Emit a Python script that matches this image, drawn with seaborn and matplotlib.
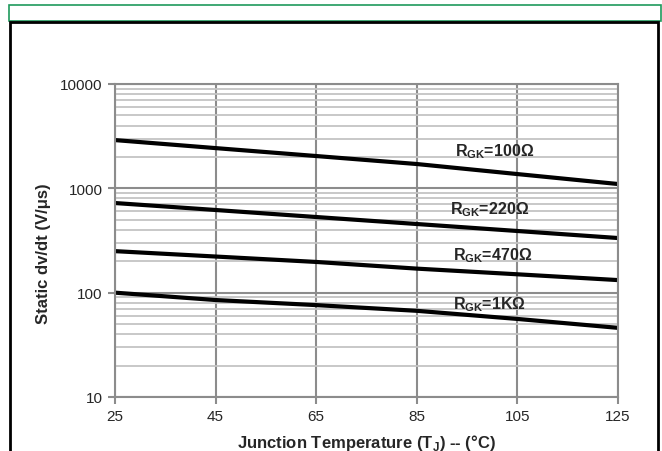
import matplotlib
matplotlib.use("Agg")
import matplotlib.pyplot as plt
import numpy as np
import pandas as pd
import seaborn as sns
from matplotlib.patches import Rectangle
from matplotlib.ticker import LogLocator, FixedLocator, NullFormatter

# ── Data ─────────────────────────────────────────────────────────────
temps = [25, 45, 65, 85, 105, 125]
dvdt_100 = [2900, 2430, 2040, 1710, 1370, 1100]
dvdt_220 = [723, 620, 531, 455, 390, 334]
dvdt_470 = [250, 222, 197, 170, 150, 132]
dvdt_1k = [100, 85, 76, 67, 56, 46]
series_names = ["100Ω", "220Ω", "470Ω", "1KΩ"]
x_ticks = [25, 45, 65, 85, 105, 125]
y_ticks = [10, 100, 1000, 10000]

df = pd.DataFrame({
    "T": temps * 4,
    "dvdt": dvdt_100 + dvdt_220 + dvdt_470 + dvdt_1k,
    "R": [n for n in series_names for _ in temps],
})

# ── Theme ────────────────────────────────────────────────────────────
sns.set_theme(style="white")
plt.rcParams["font.family"] = ["Liberation Sans", "DejaVu Sans"]
plt.rcParams["mathtext.fontset"] = "custom"
plt.rcParams["mathtext.rm"] = "Liberation Sans:bold"
plt.rcParams["mathtext.bf"] = "Liberation Sans:bold"

fig = plt.figure(figsize=(6.62, 4.52), dpi=100)
ax = fig.add_axes([115 / 662, 1 - 398 / 452, 503 / 662, 313 / 452])

# outer frames
fig.patches.append(Rectangle((9 / 662, 1 - 22 / 452), 652 / 662, 16 / 452,
                             transform=fig.transFigure, fill=False,
                             edgecolor="#1f9a5c", lw=1.2))
fig.patches.append(Rectangle((10 / 662, -0.05), 648 / 662, 1 - 23 / 452 + 0.05,
                             transform=fig.transFigure, fill=False,
                             edgecolor="black", lw=2))

sns.lineplot(data=df, x="T", y="dvdt", units="R", estimator=None,
             color="black", lw=3, ax=ax, legend=False)

ax.set_yscale("log")
ax.set_xlim(25, 125)
ax.set_ylim(10, 10000)
ax.xaxis.set_major_locator(FixedLocator(x_ticks))
ax.yaxis.set_major_locator(FixedLocator(y_ticks))
ax.set_yticklabels([str(v) for v in y_ticks])
ax.yaxis.set_minor_locator(LogLocator(base=10, subs=np.arange(2, 10)))
ax.yaxis.set_minor_formatter(NullFormatter())

ax.grid(which="major", axis="both", color="#8c8c8c", lw=1.5)
ax.grid(which="minor", axis="y", color="#c4c4c4", lw=1.3)
ax.set_axisbelow(True)
for s in ax.spines.values():
    s.set_color("#8c8c8c")
    s.set_linewidth(1.5)

ax.tick_params(axis="both", which="major", labelsize=11, length=5,
               width=1.5, color="#8c8c8c", left=True, bottom=True, pad=4)
ax.tick_params(axis="y", which="minor", length=0)

ax.set_xlabel("Junction Temperature (T$_{\\mathregular{J}}$) -- (°C)",
              fontsize=12, fontweight="bold", labelpad=6)
ax.set_ylabel("Static dv/dt (V/μs)", fontsize=12, fontweight="bold")
ax.yaxis.set_label_coords(-0.128, 0.46)

# curve labels
label_pos = [(100.5, 2280), (99.5, 634), (100, 229), (99.5, 79)]
for name, (lx, ly) in zip(series_names, label_pos):
    ax.text(lx, ly, "R$_{\\mathregular{GK}}$=" + name, fontsize=11.5,
            fontweight="bold", ha="center", va="center")

fig.savefig("out.png", dpi=100)
